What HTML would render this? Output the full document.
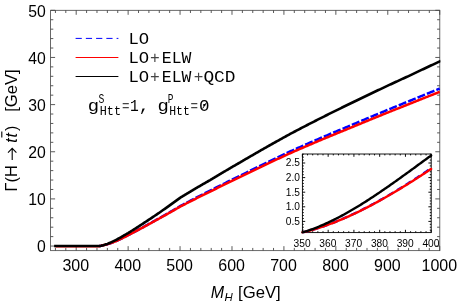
<!DOCTYPE html>
<html><head><meta charset="utf-8"><title>plot</title>
<style>html,body{margin:0;padding:0;background:#fff}svg{will-change:transform}</style></head>
<body>
<svg width="458" height="304" viewBox="0 0 458 304" style="display:block">
<rect x="0" y="0" width="458" height="304" fill="#fff"/>
<path d="M55.43,250.65v-2.7M55.43,10.3v2.7M65.81,250.65v-2.7M65.81,10.3v2.7M76.20,250.65v-4.5M76.20,10.3v4.5M86.59,250.65v-2.7M86.59,10.3v2.7M96.97,250.65v-2.7M96.97,10.3v2.7M107.36,250.65v-2.7M107.36,10.3v2.7M117.74,250.65v-2.7M117.74,10.3v2.7M128.13,250.65v-4.5M128.13,10.3v4.5M138.52,250.65v-2.7M138.52,10.3v2.7M148.90,250.65v-2.7M148.90,10.3v2.7M159.29,250.65v-2.7M159.29,10.3v2.7M169.67,250.65v-2.7M169.67,10.3v2.7M180.06,250.65v-4.5M180.06,10.3v4.5M190.45,250.65v-2.7M190.45,10.3v2.7M200.83,250.65v-2.7M200.83,10.3v2.7M211.22,250.65v-2.7M211.22,10.3v2.7M221.60,250.65v-2.7M221.60,10.3v2.7M231.99,250.65v-4.5M231.99,10.3v4.5M242.38,250.65v-2.7M242.38,10.3v2.7M252.76,250.65v-2.7M252.76,10.3v2.7M263.15,250.65v-2.7M263.15,10.3v2.7M273.53,250.65v-2.7M273.53,10.3v2.7M283.92,250.65v-4.5M283.92,10.3v4.5M294.31,250.65v-2.7M294.31,10.3v2.7M304.69,250.65v-2.7M304.69,10.3v2.7M315.08,250.65v-2.7M315.08,10.3v2.7M325.46,250.65v-2.7M325.46,10.3v2.7M335.85,250.65v-4.5M335.85,10.3v4.5M346.24,250.65v-2.7M346.24,10.3v2.7M356.62,250.65v-2.7M356.62,10.3v2.7M367.01,250.65v-2.7M367.01,10.3v2.7M377.39,250.65v-2.7M377.39,10.3v2.7M387.78,250.65v-4.5M387.78,10.3v4.5M398.17,250.65v-2.7M398.17,10.3v2.7M408.55,250.65v-2.7M408.55,10.3v2.7M418.94,250.65v-2.7M418.94,10.3v2.7M429.32,250.65v-2.7M429.32,10.3v2.7M439.71,250.65v-4.5M439.71,10.3v4.5M50.6,246.05h4.5M439.8,246.05h-4.5M50.6,236.62h2.7M439.8,236.62h-2.7M50.6,227.19h2.7M439.8,227.19h-2.7M50.6,217.76h2.7M439.8,217.76h-2.7M50.6,208.33h2.7M439.8,208.33h-2.7M50.6,198.90h4.5M439.8,198.90h-4.5M50.6,189.47h2.7M439.8,189.47h-2.7M50.6,180.04h2.7M439.8,180.04h-2.7M50.6,170.61h2.7M439.8,170.61h-2.7M50.6,161.18h2.7M439.8,161.18h-2.7M50.6,151.75h4.5M439.8,151.75h-4.5M50.6,142.32h2.7M439.8,142.32h-2.7M50.6,132.89h2.7M439.8,132.89h-2.7M50.6,123.46h2.7M439.8,123.46h-2.7M50.6,114.03h2.7M439.8,114.03h-2.7M50.6,104.60h4.5M439.8,104.60h-4.5M50.6,95.17h2.7M439.8,95.17h-2.7M50.6,85.74h2.7M439.8,85.74h-2.7M50.6,76.31h2.7M439.8,76.31h-2.7M50.6,66.88h2.7M439.8,66.88h-2.7M50.6,57.45h4.5M439.8,57.45h-4.5M50.6,48.02h2.7M439.8,48.02h-2.7M50.6,38.59h2.7M439.8,38.59h-2.7M50.6,29.16h2.7M439.8,29.16h-2.7M50.6,19.73h2.7M439.8,19.73h-2.7M50.6,10.30h4.5M439.8,10.30h-4.5" stroke="#3c3c3c" stroke-width="0.85" fill="none"/>
<rect x="50.6" y="10.3" width="389.20" height="240.35" fill="none" stroke="#444" stroke-width="0.8"/>
<clipPath id="mc"><rect x="50.6" y="10.3" width="389.80" height="240.35"/></clipPath>
<g fill="none" stroke-linejoin="round" stroke-linecap="butt" clip-path="url(#mc)">
<path d="M99.05,246.05 L100.09,246.00 L101.13,245.79 L102.17,245.48 L103.20,245.27 L104.24,245.04 L105.28,244.78 L106.32,244.51 L107.36,244.21 L108.40,243.90 L109.44,243.56 L110.47,243.21 L111.51,242.84 L112.55,242.46 L113.59,242.06 L114.63,241.64 L115.67,241.21 L116.71,240.76 L117.74,240.30 L118.78,239.83 L119.82,239.34 L120.86,238.85 L121.90,238.34 L122.94,237.82 L123.98,237.30 L125.01,236.76 L126.05,236.22 L127.09,235.67 L128.13,235.11 L129.17,234.58 L130.21,234.05 L131.25,233.51 L132.28,232.97 L133.32,232.42 L134.36,231.87 L135.40,231.32 L136.44,230.77 L137.48,230.21 L138.52,229.65 L139.55,229.09 L140.59,228.53 L141.63,227.97 L142.67,227.40 L143.71,226.83 L144.75,226.26 L145.79,225.69 L146.82,225.12 L147.86,224.54 L148.90,223.97 L149.94,223.39 L150.98,222.82 L152.02,222.24 L153.06,221.66 L154.09,221.08 L155.13,220.50 L156.17,219.92 L157.21,219.34 L158.25,218.76 L159.29,218.17 L160.33,217.59 L161.37,217.01 L162.40,216.43 L163.44,215.84 L164.48,215.26 L165.52,214.68 L166.56,214.09 L167.60,213.50 L168.64,212.89 L169.67,212.28 L170.71,211.68 L171.75,211.07 L172.79,210.46 L173.83,209.85 L174.87,209.24 L175.91,208.63 L176.94,208.02 L177.98,207.40 L179.02,206.79 L180.06,206.18 L181.10,205.62 L182.14,205.07 L183.18,204.52 L184.21,203.97 L185.25,203.42 L186.29,202.87 L187.33,202.32 L188.37,201.78 L189.41,201.23 L190.45,200.69 L191.48,200.15 L192.52,199.61 L193.56,199.07 L194.60,198.53 L195.64,197.99 L196.68,197.46 L197.72,196.92 L198.75,196.39 L199.79,195.86 L200.83,195.33 L201.87,194.80 L202.91,194.27 L203.95,193.75 L204.99,193.22 L206.02,192.70 L207.06,192.18 L208.10,191.66 L209.14,191.14 L210.18,190.62 L211.22,190.09 L212.26,189.55 L213.30,189.02 L214.33,188.50 L215.37,187.97 L216.41,187.44 L217.45,186.92 L218.49,186.39 L219.53,185.87 L220.57,185.35 L221.60,184.82 L222.64,184.30 L223.68,183.79 L224.72,183.27 L225.76,182.75 L226.80,182.24 L227.84,181.72 L228.87,181.21 L229.91,180.69 L230.95,180.18 L231.99,179.67 L233.03,179.16 L234.07,178.66 L235.11,178.15 L236.14,177.64 L237.18,177.14 L238.22,176.63 L239.26,176.13 L240.30,175.62 L241.34,175.10 L242.38,174.58 L243.41,174.06 L244.45,173.54 L245.49,173.02 L246.53,172.51 L247.57,171.99 L248.61,171.47 L249.65,170.96 L250.68,170.44 L251.72,169.93 L252.76,169.42 L253.80,168.90 L254.84,168.39 L255.88,167.88 L256.92,167.37 L257.95,166.86 L258.99,166.36 L260.03,165.85 L261.07,165.34 L262.11,164.84 L263.15,164.33 L264.19,163.83 L265.23,163.32 L266.26,162.82 L267.30,162.32 L268.34,161.82 L269.38,161.32 L270.42,160.82 L271.46,160.32 L272.50,159.82 L273.53,159.32 L274.57,158.82 L275.61,158.33 L276.65,157.83 L277.69,157.33 L278.73,156.84 L279.77,156.35 L280.80,155.85 L281.84,155.36 L282.88,154.87 L283.92,154.38 L284.96,153.89 L286.00,153.40 L287.04,152.91 L288.07,152.42 L289.11,151.94 L290.15,151.45 L291.19,150.98 L292.23,150.52 L293.27,150.05 L294.31,149.58 L295.34,149.12 L296.38,148.66 L297.42,148.19 L298.46,147.73 L299.50,147.27 L300.54,146.81 L301.58,146.35 L302.61,145.89 L303.65,145.43 L304.69,144.97 L305.73,144.51 L306.77,144.06 L307.81,143.60 L308.85,143.15 L309.88,142.69 L310.92,142.24 L311.96,141.79 L313.00,141.34 L314.04,140.89 L315.08,140.44 L316.12,139.99 L317.16,139.54 L318.19,139.09 L319.23,138.64 L320.27,138.19 L321.31,137.75 L322.35,137.30 L323.39,136.86 L324.43,136.41 L325.46,135.97 L326.50,135.53 L327.54,135.09 L328.58,134.64 L329.62,134.20 L330.66,133.76 L331.70,133.33 L332.73,132.89 L333.77,132.45 L334.81,132.01 L335.85,131.57 L336.89,131.14 L337.93,130.70 L338.97,130.27 L340.00,129.83 L341.04,129.40 L342.08,128.97 L343.12,128.54 L344.16,128.10 L345.20,127.67 L346.24,127.24 L347.27,126.81 L348.31,126.39 L349.35,125.96 L350.39,125.52 L351.43,125.08 L352.47,124.63 L353.51,124.19 L354.54,123.75 L355.58,123.30 L356.62,122.86 L357.66,122.42 L358.70,121.98 L359.74,121.54 L360.78,121.10 L361.81,120.66 L362.85,120.22 L363.89,119.78 L364.93,119.34 L365.97,118.91 L367.01,118.47 L368.05,118.03 L369.09,117.60 L370.12,117.16 L371.16,116.72 L372.20,116.29 L373.24,115.86 L374.28,115.42 L375.32,114.99 L376.36,114.56 L377.39,114.12 L378.43,113.69 L379.47,113.26 L380.51,112.83 L381.55,112.40 L382.59,111.97 L383.63,111.54 L384.66,111.11 L385.70,110.68 L386.74,110.25 L387.78,109.82 L388.82,109.39 L389.86,108.97 L390.90,108.54 L391.93,108.11 L392.97,107.69 L394.01,107.26 L395.05,106.84 L396.09,106.41 L397.13,105.99 L398.17,105.56 L399.20,105.14 L400.24,104.72 L401.28,104.29 L402.32,103.87 L403.36,103.45 L404.40,103.03 L405.44,102.61 L406.47,102.19 L407.51,101.77 L408.55,101.35 L409.59,100.93 L410.63,100.50 L411.67,100.07 L412.71,99.64 L413.75,99.21 L414.78,98.78 L415.82,98.35 L416.86,97.92 L417.90,97.50 L418.94,97.07 L419.98,96.64 L421.02,96.21 L422.05,95.79 L423.09,95.36 L424.13,94.93 L425.17,94.51 L426.21,94.08 L427.25,93.66 L428.29,93.23 L429.32,92.81 L430.36,92.38 L431.40,91.96 L432.44,91.54 L433.48,91.11 L434.52,90.69 L435.56,90.27 L436.59,89.84 L437.63,89.42 L438.67,89.00 L439.71,88.58" stroke="#0000ff" stroke-width="2.5" stroke-dasharray="8.1 2.05" stroke-dashoffset="3.3"/>
<path d="M55.43,246.38H99.57" stroke="#ff0000" stroke-width="2.0"/>
<path d="M99.05,246.05 L100.09,246.00 L101.13,245.79 L102.17,245.48 L103.20,245.27 L104.24,245.04 L105.28,244.79 L106.32,244.52 L107.36,244.23 L108.40,243.91 L109.44,243.58 L110.47,243.23 L111.51,242.87 L112.55,242.49 L113.59,242.09 L114.63,241.67 L115.67,241.25 L116.71,240.80 L117.74,240.35 L118.78,239.88 L119.82,239.40 L120.86,238.91 L121.90,238.41 L122.94,237.90 L123.98,237.38 L125.01,236.85 L126.05,236.31 L127.09,235.77 L128.13,235.21 L129.17,234.69 L130.21,234.16 L131.25,233.63 L132.28,233.09 L133.32,232.55 L134.36,232.01 L135.40,231.47 L136.44,230.92 L137.48,230.37 L138.52,229.82 L139.55,229.26 L140.59,228.71 L141.63,228.15 L142.67,227.59 L143.71,227.03 L144.75,226.46 L145.79,225.90 L146.82,225.33 L147.86,224.77 L148.90,224.20 L149.94,223.63 L150.98,223.06 L152.02,222.49 L153.06,221.92 L154.09,221.35 L155.13,220.77 L156.17,220.20 L157.21,219.63 L158.25,219.05 L159.29,218.48 L160.33,217.90 L161.37,217.33 L162.40,216.75 L163.44,216.18 L164.48,215.60 L165.52,215.03 L166.56,214.45 L167.60,213.87 L168.64,213.27 L169.67,212.68 L170.71,212.08 L171.75,211.49 L172.79,210.89 L173.83,210.30 L174.87,209.70 L175.91,209.10 L176.94,208.51 L177.98,207.91 L179.02,207.31 L180.06,206.72 L181.10,206.18 L182.14,205.64 L183.18,205.10 L184.21,204.56 L185.25,204.03 L186.29,203.50 L187.33,202.97 L188.37,202.44 L189.41,201.91 L190.45,201.38 L191.48,200.85 L192.52,200.33 L193.56,199.81 L194.60,199.29 L195.64,198.77 L196.68,198.25 L197.72,197.73 L198.75,197.21 L199.79,196.70 L200.83,196.19 L201.87,195.68 L202.91,195.17 L203.95,194.66 L204.99,194.15 L206.02,193.65 L207.06,193.14 L208.10,192.64 L209.14,192.14 L210.18,191.64 L211.22,191.12 L212.26,190.59 L213.30,190.07 L214.33,189.55 L215.37,189.03 L216.41,188.51 L217.45,187.99 L218.49,187.48 L219.53,186.96 L220.57,186.45 L221.60,185.93 L222.64,185.42 L223.68,184.91 L224.72,184.40 L225.76,183.89 L226.80,183.38 L227.84,182.87 L228.87,182.37 L229.91,181.86 L230.95,181.36 L231.99,180.85 L233.03,180.35 L234.07,179.85 L235.11,179.35 L236.14,178.85 L237.18,178.35 L238.22,177.86 L239.26,177.36 L240.30,176.86 L241.34,176.35 L242.38,175.84 L243.41,175.33 L244.45,174.83 L245.49,174.32 L246.53,173.81 L247.57,173.31 L248.61,172.80 L249.65,172.30 L250.68,171.80 L251.72,171.29 L252.76,170.79 L253.80,170.29 L254.84,169.79 L255.88,169.29 L256.92,168.80 L257.95,168.30 L258.99,167.80 L260.03,167.31 L261.07,166.81 L262.11,166.32 L263.15,165.82 L264.19,165.33 L265.23,164.84 L266.26,164.35 L267.30,163.86 L268.34,163.37 L269.38,162.88 L270.42,162.39 L271.46,161.90 L272.50,161.41 L273.53,160.93 L274.57,160.44 L275.61,159.96 L276.65,159.47 L277.69,158.99 L278.73,158.51 L279.77,158.03 L280.80,157.55 L281.84,157.06 L282.88,156.59 L283.92,156.11 L284.96,155.63 L286.00,155.15 L287.04,154.67 L288.07,154.20 L289.11,153.72 L290.15,153.25 L291.19,152.79 L292.23,152.33 L293.27,151.88 L294.31,151.42 L295.34,150.97 L296.38,150.51 L297.42,150.06 L298.46,149.60 L299.50,149.15 L300.54,148.70 L301.58,148.25 L302.61,147.80 L303.65,147.35 L304.69,146.90 L305.73,146.46 L306.77,146.01 L307.81,145.56 L308.85,145.12 L309.88,144.67 L310.92,144.23 L311.96,143.79 L313.00,143.35 L314.04,142.90 L315.08,142.46 L316.12,142.02 L317.16,141.58 L318.19,141.14 L319.23,140.71 L320.27,140.27 L321.31,139.83 L322.35,139.40 L323.39,138.96 L324.43,138.53 L325.46,138.09 L326.50,137.66 L327.54,137.23 L328.58,136.80 L329.62,136.36 L330.66,135.93 L331.70,135.50 L332.73,135.07 L333.77,134.65 L334.81,134.22 L335.85,133.79 L336.89,133.36 L337.93,132.94 L338.97,132.51 L340.00,132.09 L341.04,131.66 L342.08,131.24 L343.12,130.82 L344.16,130.40 L345.20,129.97 L346.24,129.55 L347.27,129.13 L348.31,128.71 L349.35,128.29 L350.39,127.87 L351.43,127.43 L352.47,127.00 L353.51,126.57 L354.54,126.13 L355.58,125.70 L356.62,125.27 L357.66,124.84 L358.70,124.41 L359.74,123.98 L360.78,123.55 L361.81,123.12 L362.85,122.69 L363.89,122.26 L364.93,121.83 L365.97,121.41 L367.01,120.98 L368.05,120.55 L369.09,120.13 L370.12,119.70 L371.16,119.28 L372.20,118.85 L373.24,118.43 L374.28,118.01 L375.32,117.58 L376.36,117.16 L377.39,116.74 L378.43,116.32 L379.47,115.89 L380.51,115.47 L381.55,115.05 L382.59,114.63 L383.63,114.21 L384.66,113.79 L385.70,113.38 L386.74,112.96 L387.78,112.54 L388.82,112.12 L389.86,111.70 L390.90,111.29 L391.93,110.87 L392.97,110.46 L394.01,110.04 L395.05,109.63 L396.09,109.21 L397.13,108.80 L398.17,108.38 L399.20,107.97 L400.24,107.56 L401.28,107.15 L402.32,106.73 L403.36,106.32 L404.40,105.91 L405.44,105.50 L406.47,105.09 L407.51,104.68 L408.55,104.27 L409.59,103.86 L410.63,103.45 L411.67,103.03 L412.71,102.61 L413.75,102.19 L414.78,101.77 L415.82,101.36 L416.86,100.94 L417.90,100.52 L418.94,100.11 L419.98,99.69 L421.02,99.28 L422.05,98.86 L423.09,98.45 L424.13,98.03 L425.17,97.62 L426.21,97.20 L427.25,96.79 L428.29,96.38 L429.32,95.96 L430.36,95.55 L431.40,95.14 L432.44,94.73 L433.48,94.32 L434.52,93.91 L435.56,93.49 L436.59,93.08 L437.63,92.67 L438.67,92.26 L439.71,91.85" stroke="#ff0000" stroke-width="2.5"/>
<path d="M55.43,246.05 L56.47,246.05 L57.51,246.05 L58.54,246.05 L59.58,246.05 L60.62,246.05 L61.66,246.05 L62.70,246.05 L63.74,246.05 L64.78,246.05 L65.81,246.05 L66.85,246.05 L67.89,246.05 L68.93,246.05 L69.97,246.05 L71.01,246.05 L72.05,246.05 L73.08,246.05 L74.12,246.05 L75.16,246.05 L76.20,246.05 L77.24,246.05 L78.28,246.05 L79.32,246.05 L80.35,246.05 L81.39,246.05 L82.43,246.05 L83.47,246.05 L84.51,246.05 L85.55,246.05 L86.59,246.05 L87.62,246.05 L88.66,246.05 L89.70,246.05 L90.74,246.05 L91.78,246.05 L92.82,246.05 L93.86,246.05 L94.89,246.05 L95.93,246.05 L96.97,246.05 L98.01,246.05 L99.05,246.05 L100.09,246.00 L101.13,245.79 L102.17,245.48 L103.20,245.22 L104.24,244.92 L105.28,244.60 L106.32,244.25 L107.36,243.88 L108.40,243.48 L109.44,243.05 L110.47,242.61 L111.51,242.14 L112.55,241.66 L113.59,241.16 L114.63,240.64 L115.67,240.11 L116.71,239.56 L117.74,239.00 L118.78,238.44 L119.82,237.86 L120.86,237.27 L121.90,236.67 L122.94,236.07 L123.98,235.47 L125.01,234.86 L126.05,234.25 L127.09,233.64 L128.13,233.04 L129.17,232.40 L130.21,231.77 L131.25,231.12 L132.28,230.48 L133.32,229.82 L134.36,229.17 L135.40,228.51 L136.44,227.85 L137.48,227.18 L138.52,226.51 L139.55,225.84 L140.59,225.17 L141.63,224.49 L142.67,223.81 L143.71,223.13 L144.75,222.45 L145.79,221.76 L146.82,221.08 L147.86,220.39 L148.90,219.70 L149.94,219.01 L150.98,218.31 L152.02,217.62 L153.06,216.92 L154.09,216.23 L155.13,215.53 L156.17,214.83 L157.21,214.13 L158.25,213.43 L159.29,212.73 L160.33,212.02 L161.37,211.28 L162.40,210.55 L163.44,209.81 L164.48,209.08 L165.52,208.34 L166.56,207.60 L167.60,206.85 L168.64,206.11 L169.67,205.37 L170.71,204.62 L171.75,203.87 L172.79,203.13 L173.83,202.38 L174.87,201.63 L175.91,200.88 L176.94,200.13 L177.98,199.37 L179.02,198.62 L180.06,197.86 L181.10,197.22 L182.14,196.58 L183.18,195.94 L184.21,195.30 L185.25,194.67 L186.29,194.04 L187.33,193.41 L188.37,192.78 L189.41,192.15 L190.45,191.53 L191.48,190.90 L192.52,190.28 L193.56,189.67 L194.60,189.05 L195.64,188.44 L196.68,187.83 L197.72,187.22 L198.75,186.61 L199.79,186.01 L200.83,185.41 L201.87,184.81 L202.91,184.21 L203.95,183.61 L204.99,183.02 L206.02,182.43 L207.06,181.84 L208.10,181.25 L209.14,180.67 L210.18,180.08 L211.22,179.45 L212.26,178.82 L213.30,178.19 L214.33,177.56 L215.37,176.94 L216.41,176.31 L217.45,175.69 L218.49,175.07 L219.53,174.45 L220.57,173.83 L221.60,173.21 L222.64,172.59 L223.68,171.98 L224.72,171.36 L225.76,170.75 L226.80,170.14 L227.84,169.53 L228.87,168.92 L229.91,168.31 L230.95,167.70 L231.99,167.10 L233.03,166.49 L234.07,165.89 L235.11,165.29 L236.14,164.69 L237.18,164.09 L238.22,163.50 L239.26,162.90 L240.30,162.30 L241.34,161.69 L242.38,161.07 L243.41,160.46 L244.45,159.85 L245.49,159.24 L246.53,158.63 L247.57,158.03 L248.61,157.42 L249.65,156.82 L250.68,156.21 L251.72,155.61 L252.76,155.01 L253.80,154.41 L254.84,153.81 L255.88,153.21 L256.92,152.61 L257.95,152.01 L258.99,151.42 L260.03,150.82 L261.07,150.23 L262.11,149.63 L263.15,149.04 L264.19,148.45 L265.23,147.86 L266.26,147.27 L267.30,146.68 L268.34,146.09 L269.38,145.51 L270.42,144.92 L271.46,144.34 L272.50,143.75 L273.53,143.17 L274.57,142.59 L275.61,142.01 L276.65,141.43 L277.69,140.85 L278.73,140.27 L279.77,139.69 L280.80,139.12 L281.84,138.54 L282.88,137.97 L283.92,137.39 L284.96,136.82 L286.00,136.25 L287.04,135.68 L288.07,135.11 L289.11,134.54 L290.15,133.97 L291.19,133.42 L292.23,132.87 L293.27,132.32 L294.31,131.77 L295.34,131.23 L296.38,130.68 L297.42,130.13 L298.46,129.59 L299.50,129.05 L300.54,128.51 L301.58,127.96 L302.61,127.42 L303.65,126.88 L304.69,126.35 L305.73,125.81 L306.77,125.27 L307.81,124.74 L308.85,124.20 L309.88,123.67 L310.92,123.13 L311.96,122.60 L313.00,122.07 L314.04,121.54 L315.08,121.01 L316.12,120.48 L317.16,119.96 L318.19,119.43 L319.23,118.90 L320.27,118.38 L321.31,117.85 L322.35,117.33 L323.39,116.81 L324.43,116.29 L325.46,115.77 L326.50,115.25 L327.54,114.73 L328.58,114.21 L329.62,113.69 L330.66,113.17 L331.70,112.66 L332.73,112.14 L333.77,111.63 L334.81,111.12 L335.85,110.60 L336.89,110.09 L337.93,109.58 L338.97,109.07 L340.00,108.56 L341.04,108.05 L342.08,107.54 L343.12,107.04 L344.16,106.53 L345.20,106.03 L346.24,105.52 L347.27,105.02 L348.31,104.51 L349.35,104.01 L350.39,103.51 L351.43,103.00 L352.47,102.49 L353.51,101.99 L354.54,101.48 L355.58,100.98 L356.62,100.47 L357.66,99.97 L358.70,99.47 L359.74,98.96 L360.78,98.46 L361.81,97.96 L362.85,97.46 L363.89,96.96 L364.93,96.47 L365.97,95.97 L367.01,95.47 L368.05,94.97 L369.09,94.48 L370.12,93.98 L371.16,93.49 L372.20,92.99 L373.24,92.50 L374.28,92.01 L375.32,91.52 L376.36,91.03 L377.39,90.53 L378.43,90.04 L379.47,89.56 L380.51,89.07 L381.55,88.58 L382.59,88.09 L383.63,87.60 L384.66,87.12 L385.70,86.63 L386.74,86.15 L387.78,85.66 L388.82,85.18 L389.86,84.69 L390.90,84.21 L391.93,83.73 L392.97,83.25 L394.01,82.77 L395.05,82.28 L396.09,81.80 L397.13,81.33 L398.17,80.85 L399.20,80.37 L400.24,79.89 L401.28,79.41 L402.32,78.94 L403.36,78.46 L404.40,77.99 L405.44,77.51 L406.47,77.04 L407.51,76.56 L408.55,76.09 L409.59,75.62 L410.63,75.13 L411.67,74.63 L412.71,74.14 L413.75,73.64 L414.78,73.15 L415.82,72.65 L416.86,72.16 L417.90,71.67 L418.94,71.17 L419.98,70.68 L421.02,70.19 L422.05,69.70 L423.09,69.21 L424.13,68.72 L425.17,68.23 L426.21,67.74 L427.25,67.25 L428.29,66.76 L429.32,66.27 L430.36,65.78 L431.40,65.29 L432.44,64.81 L433.48,64.32 L434.52,63.83 L435.56,63.35 L436.59,62.86 L437.63,62.37 L438.67,61.89 L439.71,61.40" stroke="#000" stroke-width="2.6" stroke-linecap="square"/>
</g>
<g font-family="'Liberation Sans', sans-serif" font-size="16" fill="#000">
<text transform="translate(75.80,271.30) scale(1.0,1.07)" text-anchor="middle">300</text>
<text transform="translate(127.73,271.30) scale(1.0,1.07)" text-anchor="middle">400</text>
<text transform="translate(179.66,271.30) scale(1.0,1.07)" text-anchor="middle">500</text>
<text transform="translate(231.59,271.30) scale(1.0,1.07)" text-anchor="middle">600</text>
<text transform="translate(283.52,271.30) scale(1.0,1.07)" text-anchor="middle">700</text>
<text transform="translate(335.45,271.30) scale(1.0,1.07)" text-anchor="middle">800</text>
<text transform="translate(387.38,271.30) scale(1.0,1.07)" text-anchor="middle">900</text>
<text transform="translate(439.31,271.30) scale(1.0,1.07)" text-anchor="middle">1000</text>
<text transform="translate(45.70,252.45) scale(0.985,1.07)" text-anchor="end">0</text>
<text transform="translate(45.70,205.30) scale(0.985,1.07)" text-anchor="end">10</text>
<text transform="translate(45.70,158.15) scale(0.985,1.07)" text-anchor="end">20</text>
<text transform="translate(45.70,111.00) scale(0.985,1.07)" text-anchor="end">30</text>
<text transform="translate(45.70,63.85) scale(0.985,1.07)" text-anchor="end">40</text>
<text transform="translate(45.70,16.70) scale(0.985,1.07)" text-anchor="end">50</text>
<text transform="translate(210.80,298.00) scale(1.0,1.0)" text-anchor="start" font-style="italic">M</text>
<text transform="translate(224.60,300.80) scale(1.0,1.0)" text-anchor="start" font-style="italic" font-size="11.4">H</text>
<text transform="translate(238.00,298.00) scale(1.045,1.04)" text-anchor="start">[GeV]</text>
<g transform="translate(16.9,191.4) rotate(-90)">
<text transform="translate(0.00,0.00) scale(1.02,1.0)" text-anchor="start">Γ(H</text>
<text transform="translate(48.70,0.00) scale(1.0,1.0)" text-anchor="start" font-style="italic">t</text>
<text transform="translate(53.90,0.00) scale(1.0,1.0)" text-anchor="start" font-style="italic">t</text>
<text transform="translate(60.30,0.00) scale(1.0,1.0)" text-anchor="start">)</text>
<text transform="translate(79.60,0.00) scale(1.035,1.04)" text-anchor="start">[GeV]</text>
</g>
<path d="M1.8,137.5V131.5" stroke="#000" stroke-width="1.1" fill="none"/>
<path d="M12.2,159.9V148.6M8.0,152.6L12.2,148.4L16.4,152.6" stroke="#000" stroke-width="1.1" fill="none"/>
</g>
<g fill="none" stroke-width="1">
<path d="M75.6,38.4H118.4" stroke="#0000ff" stroke-dasharray="6.2 4.05"/>
<path d="M75.6,57.5H118.4" stroke="#ff0000"/>
<path d="M75.6,76.5H118.4" stroke="#000"/>
</g>
<g font-family="'Liberation Mono', monospace" font-size="16.4" fill="#000">
<text x="128.41" y="44.3" font-size="16.4" textLength="20.66" lengthAdjust="spacingAndGlyphs">LO</text>
<text x="128.41" y="63.3" font-size="16.4" textLength="20.66" lengthAdjust="spacingAndGlyphs">LO</text>
<text x="149.98" y="63.3" font-size="16.4" textLength="9.76" lengthAdjust="spacingAndGlyphs" fill="#444">+</text>
<text x="161.80" y="63.3" font-size="16.4" textLength="29.61" lengthAdjust="spacingAndGlyphs">ELW</text>
<text x="128.41" y="81.8" font-size="16.4" textLength="20.66" lengthAdjust="spacingAndGlyphs">LO</text>
<text x="149.98" y="81.8" font-size="16.4" textLength="9.76" lengthAdjust="spacingAndGlyphs" fill="#444">+</text>
<text x="161.80" y="81.8" font-size="16.4" textLength="29.61" lengthAdjust="spacingAndGlyphs">ELW</text>
<text x="193.79" y="81.8" font-size="16.4" textLength="9.63" lengthAdjust="spacingAndGlyphs" fill="#444">+</text>
<text x="203.41" y="81.8" font-size="16.4" textLength="32.09" lengthAdjust="spacingAndGlyphs">QCD</text>
<text x="87.78" y="110.9" font-size="16.4" textLength="11.33" lengthAdjust="spacingAndGlyphs">g</text>
<text x="98.52" y="103.4" font-size="12.3" textLength="5.86" lengthAdjust="spacingAndGlyphs">S</text>
<text x="99.77" y="114.5" font-size="12.3" textLength="21.26" lengthAdjust="spacingAndGlyphs">Htt</text>
<text x="122.09" y="110.9" font-size="16.4" textLength="7.53" lengthAdjust="spacingAndGlyphs" fill="#444">=</text>
<text x="129.95" y="110.9" font-size="16.4" textLength="8.76" lengthAdjust="spacingAndGlyphs">1</text>
<text x="138.73" y="110.9" font-size="16.4" textLength="10.76" lengthAdjust="spacingAndGlyphs">,</text>
<text x="157.48" y="110.9" font-size="16.4" textLength="11.33" lengthAdjust="spacingAndGlyphs">g</text>
<text x="167.86" y="103.4" font-size="12.3" textLength="5.65" lengthAdjust="spacingAndGlyphs">P</text>
<text x="169.20" y="114.5" font-size="12.3" textLength="20.59" lengthAdjust="spacingAndGlyphs">Htt</text>
<text x="190.59" y="110.9" font-size="16.4" textLength="7.53" lengthAdjust="spacingAndGlyphs" fill="#444">=</text>
<text x="199.14" y="110.9" font-size="16.4" textLength="10.55" lengthAdjust="spacingAndGlyphs">0</text>
<path d="M202.6,108.5L206.6,102.4" stroke="#000" stroke-width="1.0" fill="none"/>
</g>
<rect x="302.4" y="154.0" width="128.80" height="78.60" fill="#fff"/>
<path d="M302.40,232.6v-2.8M302.40,154.0v2.8M307.55,232.6v-1.4M307.55,154.0v1.4M312.70,232.6v-1.4M312.70,154.0v1.4M317.86,232.6v-1.4M317.86,154.0v1.4M323.01,232.6v-1.4M323.01,154.0v1.4M328.16,232.6v-2.8M328.16,154.0v2.8M333.31,232.6v-1.4M333.31,154.0v1.4M338.46,232.6v-1.4M338.46,154.0v1.4M343.62,232.6v-1.4M343.62,154.0v1.4M348.77,232.6v-1.4M348.77,154.0v1.4M353.92,232.6v-2.8M353.92,154.0v2.8M359.07,232.6v-1.4M359.07,154.0v1.4M364.22,232.6v-1.4M364.22,154.0v1.4M369.38,232.6v-1.4M369.38,154.0v1.4M374.53,232.6v-1.4M374.53,154.0v1.4M379.68,232.6v-2.8M379.68,154.0v2.8M384.83,232.6v-1.4M384.83,154.0v1.4M389.98,232.6v-1.4M389.98,154.0v1.4M395.14,232.6v-1.4M395.14,154.0v1.4M400.29,232.6v-1.4M400.29,154.0v1.4M405.44,232.6v-2.8M405.44,154.0v2.8M410.59,232.6v-1.4M410.59,154.0v1.4M415.74,232.6v-1.4M415.74,154.0v1.4M420.90,232.6v-1.4M420.90,154.0v1.4M426.05,232.6v-1.4M426.05,154.0v1.4M431.20,232.6v-2.8M431.20,154.0v2.8M302.4,230.16h1.4M431.2,230.16h-1.4M302.4,227.24h1.4M431.2,227.24h-1.4M302.4,224.32h1.4M431.2,224.32h-1.4M302.4,221.40h2.8M431.2,221.40h-2.8M302.4,218.48h1.4M431.2,218.48h-1.4M302.4,215.56h1.4M431.2,215.56h-1.4M302.4,212.64h1.4M431.2,212.64h-1.4M302.4,209.72h1.4M431.2,209.72h-1.4M302.4,206.80h2.8M431.2,206.80h-2.8M302.4,203.88h1.4M431.2,203.88h-1.4M302.4,200.96h1.4M431.2,200.96h-1.4M302.4,198.04h1.4M431.2,198.04h-1.4M302.4,195.12h1.4M431.2,195.12h-1.4M302.4,192.20h2.8M431.2,192.20h-2.8M302.4,189.28h1.4M431.2,189.28h-1.4M302.4,186.36h1.4M431.2,186.36h-1.4M302.4,183.44h1.4M431.2,183.44h-1.4M302.4,180.52h1.4M431.2,180.52h-1.4M302.4,177.60h2.8M431.2,177.60h-2.8M302.4,174.68h1.4M431.2,174.68h-1.4M302.4,171.76h1.4M431.2,171.76h-1.4M302.4,168.84h1.4M431.2,168.84h-1.4M302.4,165.92h1.4M431.2,165.92h-1.4M302.4,163.00h2.8M431.2,163.00h-2.8M302.4,160.08h1.4M431.2,160.08h-1.4M302.4,157.16h1.4M431.2,157.16h-1.4M302.4,154.24h1.4M431.2,154.24h-1.4" stroke="#000" stroke-width="0.95" fill="none"/>
<rect x="302.4" y="154.0" width="128.80" height="78.60" fill="none" stroke="#000" stroke-width="0.9"/>
<clipPath id="ic"><rect x="301.2" y="153.4" width="131.60" height="80.20"/></clipPath>
<g fill="none" clip-path="url(#ic)" stroke-linejoin="round" stroke-linecap="round">
<path d="M302.40,232.50 L303.69,232.18 L304.98,231.86 L306.26,231.53 L307.55,231.19 L308.84,230.84 L310.13,230.48 L311.42,230.12 L312.70,229.74 L313.99,229.36 L315.28,228.97 L316.57,228.57 L317.86,228.17 L319.14,227.75 L320.43,227.33 L321.72,226.90 L323.01,226.46 L324.30,226.01 L325.58,225.56 L326.87,225.10 L328.16,224.63 L329.45,224.15 L330.74,223.67 L332.02,223.18 L333.31,222.68 L334.60,222.17 L335.89,221.66 L337.18,221.14 L338.46,220.61 L339.75,220.08 L341.04,219.53 L342.33,218.99 L343.62,218.43 L344.90,217.87 L346.19,217.30 L347.48,216.72 L348.77,216.14 L350.06,215.55 L351.34,214.96 L352.63,214.36 L353.92,213.75 L355.21,213.14 L356.50,212.52 L357.78,211.89 L359.07,211.26 L360.36,210.62 L361.65,209.98 L362.94,209.33 L364.22,208.68 L365.51,208.01 L366.80,207.35 L368.09,206.68 L369.38,206.00 L370.66,205.31 L371.95,204.63 L373.24,203.93 L374.53,203.23 L375.82,202.53 L377.10,201.82 L378.39,201.10 L379.68,200.39 L380.97,199.66 L382.26,198.93 L383.54,198.20 L384.83,197.46 L386.12,196.72 L387.41,195.97 L388.70,195.21 L389.98,194.46 L391.27,193.70 L392.56,192.93 L393.85,192.16 L395.14,191.39 L396.42,190.61 L397.71,189.82 L399.00,189.04 L400.29,188.25 L401.58,187.45 L402.86,186.65 L404.15,185.85 L405.44,185.05 L406.73,184.24 L408.02,183.42 L409.30,182.61 L410.59,181.79 L411.88,180.97 L413.17,180.14 L414.46,179.31 L415.74,178.48 L417.03,177.64 L418.32,176.80 L419.61,175.96 L420.90,175.11 L422.18,174.27 L423.47,173.42 L424.76,172.56 L426.05,171.71 L427.34,170.85 L428.62,169.99 L429.91,169.12 L431.20,168.26" stroke="#0000ff" stroke-width="2.4" stroke-dasharray="6.2 4.2" stroke-linecap="butt"/>
<path d="M302.40,232.50 L303.69,232.19 L304.98,231.87 L306.26,231.54 L307.55,231.20 L308.84,230.86 L310.13,230.50 L311.42,230.14 L312.70,229.77 L313.99,229.39 L315.28,229.00 L316.57,228.61 L317.86,228.21 L319.14,227.80 L320.43,227.38 L321.72,226.95 L323.01,226.52 L324.30,226.07 L325.58,225.62 L326.87,225.17 L328.16,224.70 L329.45,224.23 L330.74,223.75 L332.02,223.26 L333.31,222.77 L334.60,222.27 L335.89,221.76 L337.18,221.24 L338.46,220.72 L339.75,220.19 L341.04,219.65 L342.33,219.11 L343.62,218.56 L344.90,218.01 L346.19,217.44 L347.48,216.87 L348.77,216.30 L350.06,215.71 L351.34,215.12 L352.63,214.53 L353.92,213.93 L355.21,213.32 L356.50,212.71 L357.78,212.09 L359.07,211.46 L360.36,210.83 L361.65,210.19 L362.94,209.55 L364.22,208.90 L365.51,208.24 L366.80,207.58 L368.09,206.92 L369.38,206.25 L370.66,205.57 L371.95,204.89 L373.24,204.20 L374.53,203.51 L375.82,202.81 L377.10,202.11 L378.39,201.40 L379.68,200.69 L380.97,199.97 L382.26,199.25 L383.54,198.52 L384.83,197.79 L386.12,197.06 L387.41,196.32 L388.70,195.57 L389.98,194.82 L391.27,194.07 L392.56,193.31 L393.85,192.55 L395.14,191.78 L396.42,191.01 L397.71,190.24 L399.00,189.46 L400.29,188.68 L401.58,187.89 L402.86,187.10 L404.15,186.31 L405.44,185.51 L406.73,184.71 L408.02,183.90 L409.30,183.10 L410.59,182.28 L411.88,181.47 L413.17,180.65 L414.46,179.83 L415.74,179.01 L417.03,178.18 L418.32,177.35 L419.61,176.52 L420.90,175.68 L422.18,174.84 L423.47,174.00 L424.76,173.16 L426.05,172.31 L427.34,171.46 L428.62,170.61 L429.91,169.75 L431.20,168.90" stroke="#ff0000" stroke-width="2.4"/>
<path d="M302.40,232.50 L303.69,232.10 L304.98,231.70 L306.26,231.28 L307.55,230.85 L308.84,230.41 L310.13,229.96 L311.42,229.50 L312.70,229.03 L313.99,228.54 L315.28,228.05 L316.57,227.54 L317.86,227.03 L319.14,226.50 L320.43,225.97 L321.72,225.42 L323.01,224.86 L324.30,224.29 L325.58,223.72 L326.87,223.13 L328.16,222.54 L329.45,221.93 L330.74,221.32 L332.02,220.69 L333.31,220.06 L334.60,219.42 L335.89,218.77 L337.18,218.11 L338.46,217.44 L339.75,216.77 L341.04,216.08 L342.33,215.39 L343.62,214.69 L344.90,213.98 L346.19,213.27 L347.48,212.54 L348.77,211.81 L350.06,211.07 L351.34,210.33 L352.63,209.58 L353.92,208.82 L355.21,208.05 L356.50,207.28 L357.78,206.50 L359.07,205.71 L360.36,204.92 L361.65,204.12 L362.94,203.32 L364.22,202.51 L365.51,201.69 L366.80,200.87 L368.09,200.04 L369.38,199.21 L370.66,198.37 L371.95,197.53 L373.24,196.68 L374.53,195.83 L375.82,194.97 L377.10,194.11 L378.39,193.24 L379.68,192.37 L380.97,191.49 L382.26,190.61 L383.54,189.73 L384.83,188.84 L386.12,187.95 L387.41,187.06 L388.70,186.16 L389.98,185.26 L391.27,184.35 L392.56,183.44 L393.85,182.53 L395.14,181.62 L396.42,180.70 L397.71,179.78 L399.00,178.86 L400.29,177.94 L401.58,177.01 L402.86,176.08 L404.15,175.15 L405.44,174.22 L406.73,173.29 L408.02,172.35 L409.30,171.42 L410.59,170.48 L411.88,169.54 L413.17,168.60 L414.46,167.66 L415.74,166.72 L417.03,165.78 L418.32,164.83 L419.61,163.89 L420.90,162.95 L422.18,162.00 L423.47,161.06 L424.76,160.12 L426.05,159.17 L427.34,158.23 L428.62,157.29 L429.91,156.35 L431.20,155.41" stroke="#000" stroke-width="2.4"/>
</g>
<g font-family="'Liberation Sans', sans-serif" font-size="10.2" fill="#000">
<text x="302.10" y="246.8" text-anchor="middle">350</text>
<text x="327.86" y="246.8" text-anchor="middle">360</text>
<text x="353.62" y="246.8" text-anchor="middle">370</text>
<text x="379.38" y="246.8" text-anchor="middle">380</text>
<text x="405.14" y="246.8" text-anchor="middle">390</text>
<text x="430.90" y="246.8" text-anchor="middle">400</text>
<text x="299.9" y="224.70" text-anchor="end">0.5</text>
<text x="299.9" y="210.10" text-anchor="end">1.0</text>
<text x="299.9" y="195.50" text-anchor="end">1.5</text>
<text x="299.9" y="180.90" text-anchor="end">2.0</text>
<text x="299.9" y="166.30" text-anchor="end">2.5</text>
</g>
</svg>
</body></html>
